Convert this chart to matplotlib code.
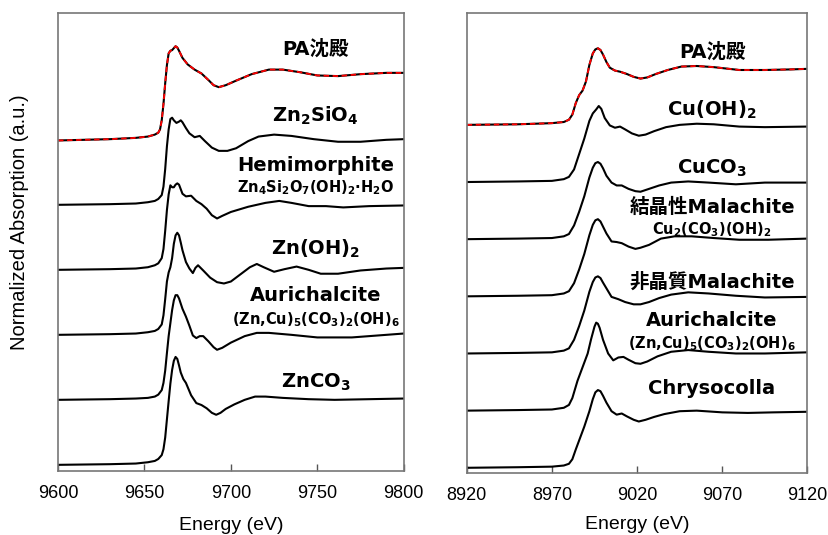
import matplotlib.pyplot as plt

# ---- Zn K-edge XANES (left panel), normalized, bottom -> top ----
zn_carb_E = [9600, 9630, 9645, 9652, 9656, 9658, 9660, 9661, 9662, 9663, 9664, 9665, 9666, 9667, 9668,
             9669, 9670, 9671, 9672.5, 9674, 9677, 9680, 9683, 9686, 9689, 9691.5, 9694, 9697, 9702,
             9708, 9714, 9720, 9730, 9745, 9760, 9780, 9800]
zn_carb = [0.0, 0.01, 0.02, 0.04, 0.06, 0.09, 0.15, 0.24, 0.42, 0.7, 0.98, 1.25, 1.46, 1.6, 1.66,
           1.63, 1.53, 1.42, 1.32, 1.26, 1.07, 0.95, 0.92, 0.87, 0.8, 0.77, 0.8, 0.86, 0.93,
           1.0, 1.05, 1.05, 1.03, 1.01, 1.0, 1.01, 1.02]

zn_auri_E = [9600, 9630, 9645, 9652, 9656, 9658, 9660, 9661, 9662, 9663, 9664, 9665, 9666, 9667, 9668,
             9669, 9670, 9671, 9672, 9674, 9676, 9678, 9680, 9682, 9684, 9687, 9690, 9692, 9695, 9700,
             9708, 9715, 9722, 9735, 9750, 9770, 9785, 9800]
zn_auri = [0.0, 0.01, 0.02, 0.03, 0.05, 0.08, 0.15, 0.26, 0.45, 0.72, 0.98, 1.18, 1.38, 1.53, 1.61,
           1.61, 1.56, 1.48, 1.4, 1.28, 1.14, 0.99, 0.95, 0.98, 0.98, 0.9, 0.81, 0.77, 0.8, 0.88,
           0.98, 1.03, 1.03, 1.0, 0.96, 0.96, 0.99, 1.02]

zn_oh_E = [9600, 9630, 9645, 9652, 9656, 9658, 9660, 9661, 9662, 9663, 9664, 9665, 9666, 9667, 9668,
           9669, 9670, 9671, 9672, 9674, 9676, 9678, 9679.5, 9681, 9684, 9688, 9692, 9696, 9700, 9706,
           9711, 9715, 9719, 9725, 9731, 9738, 9745, 9752, 9762, 9775, 9790, 9800]
zn_oh = [0.0, 0.01, 0.02, 0.04, 0.06, 0.09, 0.16, 0.3, 0.55, 0.82, 0.96, 1.04, 1.18, 1.4, 1.53,
         1.57, 1.53, 1.42, 1.3, 1.12, 1.02, 0.95, 1.03, 1.07, 0.99, 0.88, 0.81, 0.79, 0.82, 0.94,
         1.04, 1.09, 1.04, 0.97, 1.01, 1.05, 1.0, 0.94, 0.94, 0.99, 1.02, 1.03]

zn_hemi_E = [9600, 9630, 9645, 9652, 9656, 9658, 9660, 9661, 9662, 9663, 9664, 9665, 9666, 9667, 9668,
             9669, 9670, 9671, 9672, 9674, 9677, 9680, 9683, 9686, 9689, 9692, 9695, 9700, 9710, 9720,
             9728, 9735, 9745, 9755, 9765, 9780, 9800]
zn_hemi = [0.0, 0.01, 0.02, 0.04, 0.07, 0.1, 0.18, 0.32, 0.6, 0.92, 1.16, 1.3, 1.27, 1.27, 1.31,
           1.33, 1.31, 1.24, 1.17, 1.13, 1.14, 1.06, 1.01, 0.94, 0.84, 0.79, 0.83, 0.89, 0.97, 1.03,
           1.06, 1.03, 0.98, 0.98, 0.96, 0.98, 0.99]

zn_sil_E = [9600, 9630, 9645, 9652, 9656, 9658, 9660, 9661, 9662, 9663, 9664, 9665, 9666, 9667, 9668.5,
            9670, 9671, 9672, 9674, 9676, 9679, 9682, 9685, 9689, 9693, 9698, 9703, 9710, 9716, 9725,
            9735, 9748, 9762, 9775, 9790, 9800]
zn_sil = [0.0, 0.01, 0.02, 0.04, 0.06, 0.09, 0.15, 0.28, 0.55, 0.9, 1.16, 1.32, 1.34, 1.3, 1.26,
          1.28, 1.3, 1.27, 1.18, 1.1, 1.04, 1.06, 0.98, 0.88, 0.83, 0.83, 0.87, 0.98, 1.05, 1.08,
          1.06, 1.01, 0.97, 0.97, 1.0, 1.01]

zn_pa_E = [9600, 9630, 9645, 9652, 9656, 9658, 9659, 9660, 9661, 9662, 9663, 9664, 9665, 9666, 9667,
           9668, 9669, 9670, 9672, 9675, 9679, 9683, 9687, 9690, 9693, 9697, 9703, 9712, 9722, 9730,
           9740, 9750, 9762, 9775, 9790, 9800]
zn_pa = [-0.01, 0.01, 0.03, 0.05, 0.08, 0.11, 0.16, 0.3, 0.55, 0.87, 1.15, 1.33, 1.37, 1.38, 1.41,
         1.44, 1.42, 1.37, 1.26, 1.16, 1.08, 1.02, 0.92, 0.84, 0.81, 0.84, 0.91, 1.01, 1.08, 1.08,
         1.04, 0.99, 0.98, 1.01, 1.03, 1.03]

# ---- Cu K-edge XANES (right panel), normalized, bottom -> top ----
cu_chry_E = [8920, 8950, 8970, 8977, 8980, 8982, 8984, 8986, 8989, 8992, 8994, 8995.5, 8997, 8998.5,
             9000, 9002, 9005, 9008, 9011, 9014, 9018, 9021, 9025, 9030, 9036, 9045, 9055, 9070, 9085,
             9100, 9120]
cu_chry = [0.0, 0.01, 0.02, 0.04, 0.07, 0.15, 0.32, 0.48, 0.72, 0.99, 1.2, 1.32, 1.36, 1.34,
           1.26, 1.14, 0.99, 0.93, 0.95, 0.9, 0.84, 0.81, 0.84, 0.89, 0.94, 0.99, 1.0, 0.97, 0.96,
           0.97, 0.98]

cu_auri_E = [8920, 8950, 8970, 8977, 8980, 8982, 8985, 8988, 8991, 8993, 8995, 8996, 8997, 8998,
             9000, 9003, 9006, 9009, 9012, 9015, 9019, 9022, 9026, 9032, 9040, 9050, 9062, 9078, 9095,
             9120]
cu_auri = [0.0, 0.01, 0.02, 0.05, 0.1, 0.22, 0.52, 0.76, 1.0, 1.25, 1.47, 1.54, 1.52, 1.45,
           1.24, 1.0, 0.88, 0.93, 0.94, 0.89, 0.83, 0.82, 0.86, 0.95, 1.03, 1.06, 1.03, 1.0, 1.0,
           1.02]

cu_amal_E = [8920, 8950, 8970, 8977, 8980, 8983, 8986, 8989, 8992, 8994, 8995.5, 8997, 8998.5, 9000,
             9002, 9005, 9009, 9013, 9018, 9022, 9027, 9033, 9040, 9050, 9062, 9078, 9095, 9120]
cu_amal = [0.0, 0.01, 0.02, 0.05, 0.09, 0.24, 0.48, 0.75, 1.08, 1.25, 1.33, 1.35, 1.32, 1.24,
           1.14, 0.99, 0.95, 0.9, 0.86, 0.86, 0.9, 0.97, 1.03, 1.07, 1.05, 1.01, 0.98, 0.99]

cu_cmal_E = [8920, 8950, 8970, 8977, 8980, 8983, 8986, 8989, 8992, 8994, 8995.5, 8997, 8998.5, 9000,
             9002, 9005, 9008, 9011, 9015, 9019, 9022, 9027, 9034, 9042, 9052, 9065, 9080, 9097, 9120]
cu_cmal = [0.0, 0.01, 0.02, 0.05, 0.09, 0.23, 0.47, 0.74, 1.07, 1.25, 1.33, 1.35, 1.31, 1.22,
           1.1, 0.96, 0.95, 0.93, 0.87, 0.83, 0.85, 0.9, 1.01, 1.05, 1.05, 1.02, 0.99, 0.99, 1.01]

cu_carb_E = [8920, 8950, 8970, 8977, 8980, 8983, 8986, 8989, 8992, 8994, 8995.5, 8997, 8998.5, 9000,
             9002, 9005, 9008, 9011, 9015, 9019, 9022, 9027, 9033, 9040, 9050, 9062, 9078, 9095, 9120]
cu_carb = [0.0, 0.01, 0.02, 0.05, 0.09, 0.24, 0.48, 0.75, 1.08, 1.25, 1.33, 1.35, 1.32, 1.24,
           1.11, 0.99, 0.94, 0.94, 0.88, 0.84, 0.83, 0.88, 0.94, 0.99, 1.01, 0.99, 0.96, 0.99, 0.99]

cu_oh_E = [8920, 8950, 8970, 8977, 8980, 8983, 8986, 8989, 8992, 8994, 8996, 8997.5, 8999, 9001,
           9004, 9007, 9010, 9013, 9017, 9021, 9025, 9030, 9037, 9045, 9055, 9065, 9080, 9095, 9120]
cu_oh = [0.0, 0.01, 0.02, 0.05, 0.09, 0.22, 0.49, 0.76, 1.07, 1.2, 1.27, 1.33, 1.28, 1.12,
         0.99, 0.95, 0.97, 0.92, 0.85, 0.81, 0.83, 0.89, 0.96, 1.0, 1.02, 1.01, 0.97, 0.96, 0.97]

cu_pa_E = [8920, 8950, 8970, 8977, 8980, 8982, 8984, 8986, 8988, 8990, 8992, 8994, 8995.5, 8997,
           8998.5, 9000, 9002, 9004, 9007, 9010, 9014, 9018, 9022, 9026, 9031, 9038, 9046, 9055, 9065,
           9080, 9095, 9110, 9120]
cu_pa = [0.0, 0.01, 0.03, 0.05, 0.09, 0.18, 0.38, 0.52, 0.6, 0.76, 1.05, 1.25, 1.32, 1.34,
         1.31, 1.23, 1.1, 1.0, 0.95, 0.93, 0.89, 0.84, 0.81, 0.83, 0.89, 0.96, 1.02, 1.03, 1.01,
         0.96, 0.96, 0.97, 0.98]

zn_spectra = [(zn_carb_E, zn_carb), (zn_auri_E, zn_auri), (zn_oh_E, zn_oh),
              (zn_hemi_E, zn_hemi), (zn_sil_E, zn_sil), (zn_pa_E, zn_pa)]
cu_spectra = [(cu_chry_E, cu_chry), (cu_auri_E, cu_auri), (cu_amal_E, cu_amal), (cu_cmal_E, cu_cmal),
              (cu_carb_E, cu_carb), (cu_oh_E, cu_oh), (cu_pa_E, cu_pa)]

# labels: (text, y, size)
zn_labels = [('PA沈殿', 6.39, 14), (r'Zn$_\mathbf{2}$SiO$_\mathbf{4}$', 5.37, 14),
             ('Hemimorphite', 4.61, 14),
             (r'Zn$_\mathbf{4}$Si$_\mathbf{2}$O$_\mathbf{7}$(OH)$_\mathbf{2}$·H$_\mathbf{2}$O', 4.27, 10.5),
             (r'Zn(OH)$_\mathbf{2}$', 3.32, 14), ('Aurichalcite', 2.61, 14),
             (r'(Zn,Cu)$_\mathbf{5}$(CO$_\mathbf{3}$)$_\mathbf{2}$(OH)$_\mathbf{6}$', 2.24, 10.5),
             (r'ZnCO$_\mathbf{3}$', 1.27, 14)]
cu_labels = [('PA沈殿', 7.28, 14), (r'Cu(OH)$_\mathbf{2}$', 6.26, 14), (r'CuCO$_\mathbf{3}$', 5.24, 14),
             ('結晶性Malachite', 4.56, 14), (r'Cu$_\mathbf{2}$(CO$_\mathbf{3}$)(OH)$_\mathbf{2}$', 4.17, 10.5),
             ('非晶質Malachite', 3.25, 14), ('Aurichalcite', 2.57, 14),
             (r'(Zn,Cu)$_\mathbf{5}$(CO$_\mathbf{3}$)$_\mathbf{2}$(OH)$_\mathbf{6}$', 2.18, 10.5),
             ('Chrysocolla', 1.38, 14)]

zn_ticks = [9600, 9650, 9700, 9750, 9800]
cu_ticks = [8920, 8970, 9020, 9070, 9120]

plt.rcParams['mathtext.fontset'] = 'dejavusans'
lab_font = ['DejaVu Sans', 'Noto Sans CJK JP']
ax_font = 'Liberation Sans'

fig = plt.figure(figsize=(8.29, 5.35), dpi=100)
ax1 = fig.add_axes([0.070, 0.1196, 0.417, 0.856])
ax2 = fig.add_axes([0.563, 0.116, 0.411, 0.86])


def draw(ax, spectra, labels, ticks, xlab_x, ylim, xpad):
    for k, (E, mu) in enumerate(spectra):
        ax.plot(E, [m + k for m in mu], color='black', lw=1.5)
    # fit overlay on the top (PA) spectrum
    E, mu = spectra[-1]
    top = len(spectra) - 1
    ax.plot(E, [m + top for m in mu], color='red', lw=1.3, ls=(0, (3, 2)))
    for txt, y, size in labels:
        ax.text(xlab_x, y, txt, ha='center', va='center', fontsize=size,
                fontweight='bold', family=lab_font)
    ax.set_xlim(ticks[0], ticks[-1])
    ax.set_ylim(*ylim)
    ax.set_xticks(ticks)
    ax.set_yticks([])
    ax.tick_params(axis='x', direction='in', length=5, width=1, colors='#555555',
                   labelcolor='black', labelsize=13, pad=10)
    for lab in ax.get_xticklabels():
        lab.set_family(ax_font)
    for s in ax.spines.values():
        s.set_color('#777777')
        s.set_linewidth(1.2)
    ax.set_xlabel('Energy (eV)', fontsize=14, family=ax_font, labelpad=xpad)


draw(ax1, zn_spectra, zn_labels, zn_ticks, 9749, (-0.095, 6.95), 11)
draw(ax2, cu_spectra, cu_labels, cu_ticks, 9064, (-0.09, 7.96), 9)
ax1.set_ylabel('Normalized Absorption (a.u.)', fontsize=14.5, family=ax_font)
ax1.yaxis.set_label_coords(-0.085, 0.544)

fig.savefig('out.png', dpi=100)
